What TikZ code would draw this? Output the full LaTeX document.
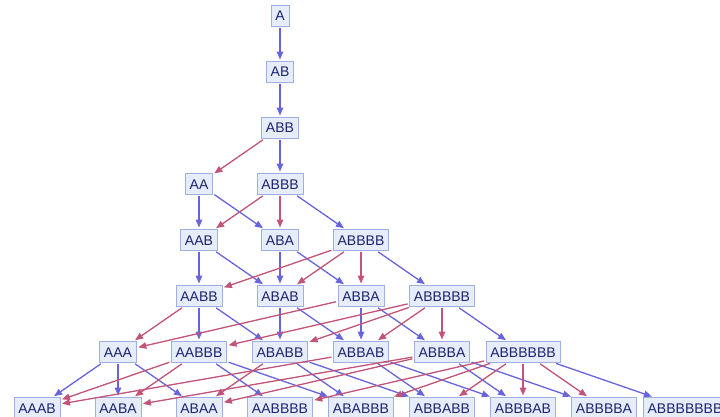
\documentclass[tikz,border=0pt]{standalone}
\usepackage{fontspec}
\setmainfont{Liberation Sans}
\usetikzlibrary{arrows.meta}
\definecolor{statefill}{RGB}{230,236,249}
\definecolor{statedraw}{RGB}{158,176,222}
\definecolor{statetext}{RGB}{26,36,110}
\definecolor{ruleone}{RGB}{104,100,222}
\definecolor{ruletwo}{RGB}{194,84,120}
\tikzset{
  state/.style={draw=statedraw, fill=statefill, text=statetext, line width=0.9pt,
    font=\fontsize{14}{16}\selectfont, inner xsep=4.35pt, inner ysep=5.5pt,
    text height=10pt, text depth=0pt},
  edge/.style={line width=1.3pt, -{Triangle[length=8pt,width=6.5pt]},
    shorten >=1.5pt, shorten <=1.5pt},
  gen/.style={edge, draw=ruleone, fill=ruleone},
  red/.style={edge, draw=ruletwo, fill=ruletwo},
}
\begin{document}
\begin{tikzpicture}[x=1pt,y=-1pt]
\useasboundingbox (0,0) rectangle (720,417);
\clip (0,0) rectangle (720,417);
% states, one row per step
\node[state] (A) at (280,16) {A};
\node[state] (AB) at (280,72) {AB};
\node[state] (ABB) at (280,128) {ABB};
\node[state] (AA) at (199,184) {AA};
\node[state] (ABBB) at (280,184) {ABBB};
\node[state] (AAB) at (199,240) {AAB};
\node[state] (ABA) at (280,240) {ABA};
\node[state] (ABBBB) at (361,240) {ABBBB};
\node[state] (AABB) at (199,296) {AABB};
\node[state] (ABAB) at (280,296) {ABAB};
\node[state] (ABBA) at (361,296) {ABBA};
\node[state] (ABBBBB) at (442,296) {ABBBBB};
\node[state] (AAA) at (118,352) {AAA};
\node[state] (AABBB) at (199,352) {AABBB};
\node[state] (ABABB) at (280,352) {ABABB};
\node[state] (ABBAB) at (361,352) {ABBAB};
\node[state] (ABBBA) at (442,352) {ABBBA};
\node[state] (ABBBBBB) at (523,352) {ABBBBBB};
\node[state] (AAAB) at (37,408) {AAAB};
\node[state] (AABA) at (118,408) {AABA};
\node[state] (ABAA) at (199,408) {ABAA};
\node[state] (AABBBB) at (280,408) {AABBBB};
\node[state] (ABABBB) at (361,408) {ABABBB};
\node[state] (ABBABB) at (442,408) {ABBABB};
\node[state] (ABBBAB) at (523,408) {ABBBAB};
\node[state] (ABBBBA) at (604,408) {ABBBBA};
\node[state] (ABBBBBBB) at (685,408) {ABBBBBBB};
% A -> AB
\foreach \s/\t in {A/AB, AB/ABB, ABB/ABBB, AA/AAB, AA/ABA, ABBB/ABBBB,
  AAB/AABB, AAB/ABAB, ABA/ABAB, ABA/ABBA, ABBBB/ABBBBB,
  AABB/AABBB, AABB/ABABB, ABAB/ABABB, ABAB/ABBAB, ABBA/ABBAB, ABBA/ABBBA,
  ABBBBB/ABBBBBB,
  AAA/AAAB, AAA/AABA, AAA/ABAA, AABBB/ABABBB, AABBB/AABBBB,
  ABABB/ABBABB, ABABB/ABABBB, ABBAB/ABBBAB, ABBAB/ABBABB,
  ABBBA/ABBBBA, ABBBA/ABBBAB, ABBBBBB/ABBBBBBB}
  \draw[gen] (\s) -- (\t);
% BB -> A
\foreach \s/\t in {ABB/AA, ABBB/AAB, ABBB/ABA,
  ABBBB/AABB, ABBBB/ABAB, ABBBB/ABBA,
  AABB/AAA, ABBA/AAA,
  ABBBBB/AABBB, ABBBBB/ABABB, ABBBBB/ABBAB, ABBBBB/ABBBA,
  AABBB/AAAB, AABBB/AABA, ABABB/ABAA, ABBAB/AAAB, ABBBA/AABA, ABBBA/ABAA,
  ABBBBBB/AABBBB, ABBBBBB/ABABBB, ABBBBBB/ABBABB, ABBBBBB/ABBBAB, ABBBBBB/ABBBBA}
  \draw[red] (\s) -- (\t);
\end{tikzpicture}
\end{document}
